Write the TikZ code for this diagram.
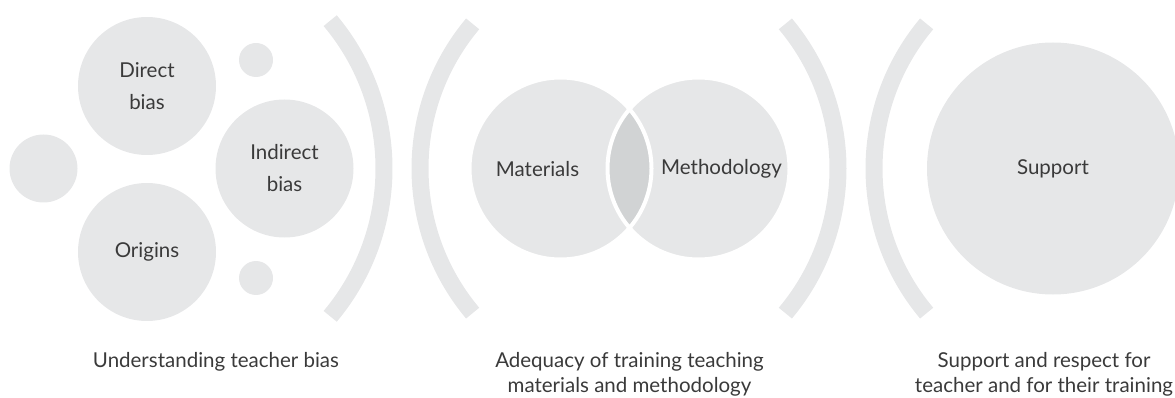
\documentclass[tikz,border=0pt]{standalone}
\usepackage{fontspec}
\setmainfont{Lato}
\usepackage{tikz}

\definecolor{bubblegray}{HTML}{E6E7E8}
\definecolor{lensgray}{HTML}{D1D3D4}
\definecolor{textgray}{HTML}{3A3A3A}

\tikzset{
  bubble/.style={circle, fill=bubblegray, inner sep=0pt, text=textgray, align=center,
    font=\fontsize{20.5}{32}\selectfont},
  lbl/.style={text=textgray, align=center, font=\fontsize{20.5}{25}\selectfont},
  bracket/.style={draw=bubblegray, line width=17},
}

\begin{document}
\begin{tikzpicture}[x=1pt,y=-1pt]
  \useasboundingbox (0,0) rectangle (1175,398);

  %GROUP 1 : BIAS
  \node[bubble, minimum size=138] (direct) at (147,86) {Direct\\bias};
  \node[bubble, minimum size=138] (indirect) at (284.5,168.5) {Indirect\\bias};
  \node[bubble, minimum size=138] (origins) at (147,252) {Origins};
  \node[bubble, minimum size=68] (dotleft) at (43.5,168.5) {};
  \node[bubble, minimum size=34] (dottop) at (256,60) {};
  \node[bubble, minimum size=34] (dotbottom) at (256,278) {};
  \draw[bracket] (154,168.5) ++(-40:230) arc[start angle=-40, end angle=40, radius=230];
  \node[lbl] (biastext) at (216,362) {Understanding teacher bias};

  %GROUP 2 : VENN
  \draw[bracket] (645,168.5) ++(220:225) arc[start angle=220, end angle=140, radius=225];
  \node[bubble, minimum size=182] (matcirc) at (560.5,168.5) {};
  \node[bubble, minimum size=182] (methcirc) at (698.5,168.5) {};
  \begin{scope}
    \clip (matcirc.center) circle (91);
    \fill[lensgray] (methcirc.center) circle (91);
  \end{scope}
  \draw[white, line width=4] (matcirc.center) circle (91) (methcirc.center) circle (91);
  \node[lbl] (mattext) at (537.5,169) {Materials};
  \node[lbl] (methtext) at (721.5,169) {Methodology};
  \draw[bracket] (613,168.5) ++(-40:225) arc[start angle=-40, end angle=40, radius=225];
  \node[lbl] (adequacytext) at (629.5,374.5) {Adequacy of training teaching\\materials and methodology};

  %GROUP 3 : SUPPORT
  \draw[bracket] (1099,168.5) ++(220:225) arc[start angle=220, end angle=140, radius=225];
  \node[bubble, minimum size=252] (support) at (1053,168.5) {Support};
  \node[lbl] (supporttext) at (1044,374.5) {Support and respect for\\teacher and for their training};
\end{tikzpicture}
\end{document}
